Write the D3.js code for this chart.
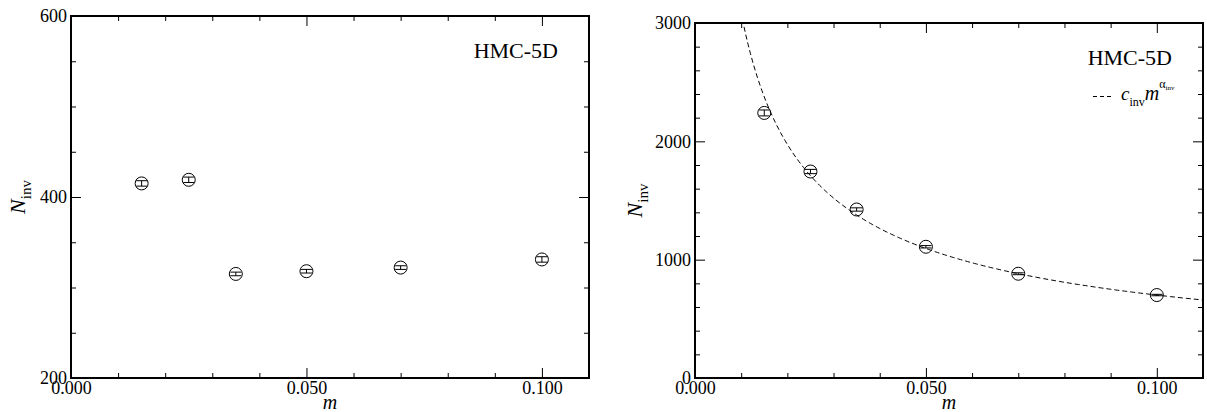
<!DOCTYPE html>
<html>
<head>
<meta charset="utf-8">
<script src="https://cdn.jsdelivr.net/npm/d3@7/dist/d3.min.js"></script>
<style>
  body { margin: 0; background: #fff; }
  svg { display: block; }
  text, tspan { font-family: "Liberation Serif", "Times New Roman", serif; fill: #000; }
</style>
</head>
<body>
<svg id="chart" width="1207" height="412"></svg>
<script>
// ---- data ----
const masses = [0.015, 0.025, 0.035, 0.050, 0.070, 0.100];
const leftValues = [415, 419, 315, 318, 322, 331];
const leftErrors = [3, 3, 2, 2, 2, 3];
const rightValues = [2240, 1745, 1424, 1109, 881, 701];
const rightErrors = [25, 18, 14, 10, 8, 6];
const fitC = [159.3];       // c_inv
const fitAlpha = [-0.6434]; // alpha_inv
const xMajorTicks = [0.000, 0.050, 0.100];
const xMinorTicks = [0.01, 0.02, 0.03, 0.04, 0.06, 0.07, 0.08, 0.09, 0.11];
const leftYMajor = [200, 400, 600];
const leftYMinor = [250, 300, 350, 450, 500, 550];
const rightYMajor = [0, 1000, 2000, 3000];
const rightYMinor = [200, 400, 600, 800, 1200, 1400, 1600, 1800, 2200, 2400, 2600, 2800];
const panelLabel = "HMC-5D";

const SERIF = '"Liberation Serif", "Times New Roman", serif';
const svg = d3.select("#chart");

function styleAxis(a) {
  a.select(".domain").remove();
  a.attr("font-family", SERIF).attr("font-size", 18);
  a.selectAll(".tick line").attr("stroke", "#000").attr("stroke-width", 1);
  a.selectAll(".tick text").attr("fill", "#000")
    .style("font-family", SERIF).style("font-size", "18px");
}

function panel(opts) {
  const x = d3.scaleLinear().domain([0, 0.11]).range([opts.x0, opts.x1]);
  const y = d3.scaleLinear().domain(opts.yDomain).range([opts.y1, opts.y0]);
  const g = svg.append("g");

  const fmtX = d3.format(".3f");
  // bottom
  g.append("g").attr("transform", `translate(0,${opts.y1})`)
    .call(d3.axisBottom(x).tickValues(xMajorTicks).tickFormat(fmtX).tickSize(-10).tickPadding(3))
    .call(styleAxis);
  g.append("g").attr("transform", `translate(0,${opts.y1})`)
    .call(d3.axisBottom(x).tickValues(xMinorTicks).tickFormat("").tickSize(-5))
    .call(styleAxis);
  // top
  g.append("g").attr("transform", `translate(0,${opts.y0})`)
    .call(d3.axisTop(x).tickValues(xMajorTicks).tickFormat("").tickSize(-10))
    .call(styleAxis);
  g.append("g").attr("transform", `translate(0,${opts.y0})`)
    .call(d3.axisTop(x).tickValues(xMinorTicks).tickFormat("").tickSize(-5))
    .call(styleAxis);
  // left
  g.append("g").attr("transform", `translate(${opts.x0},0)`)
    .call(d3.axisLeft(y).tickValues(opts.yMajor).tickFormat(d3.format("d")).tickSize(-10).tickPadding(4))
    .call(styleAxis);
  g.append("g").attr("transform", `translate(${opts.x0},0)`)
    .call(d3.axisLeft(y).tickValues(opts.yMinor).tickFormat("").tickSize(-5))
    .call(styleAxis);
  // right
  g.append("g").attr("transform", `translate(${opts.x1},0)`)
    .call(d3.axisRight(y).tickValues(opts.yMajor).tickFormat("").tickSize(-10))
    .call(styleAxis);
  g.append("g").attr("transform", `translate(${opts.x1},0)`)
    .call(d3.axisRight(y).tickValues(opts.yMinor).tickFormat("").tickSize(-5))
    .call(styleAxis);

  // frame
  g.append("rect").attr("x", opts.x0).attr("y", opts.y0)
    .attr("width", opts.x1 - opts.x0).attr("height", opts.y1 - opts.y0)
    .attr("fill", "none").attr("stroke", "#000").attr("stroke-width", 2);

  // fit curve
  if (opts.fit) {
    const clip = "clip" + opts.x0;
    svg.append("clipPath").attr("id", clip).append("rect")
      .attr("x", opts.x0).attr("y", opts.y0).attr("width", opts.x1 - opts.x0).attr("height", opts.y1 - opts.y0);
    const ms = d3.range(0.009, 0.1101, 0.0005);
    const line = d3.line().x(d => x(d)).y(d => y(fitC[0] * Math.pow(d, fitAlpha[0])));
    g.append("path").datum(ms).attr("d", line).attr("clip-path", `url(#${clip})`)
      .attr("fill", "none").attr("stroke", "#000").attr("stroke-width", 1)
      .attr("stroke-dasharray", "5,3");
  }

  // error bars
  const pts = masses.map((m, i) => ({ m, v: opts.values[i], e: opts.errors[i] }));
  const eb = g.append("g").attr("stroke", "#000").attr("stroke-width", 1);
  pts.forEach(p => {
    eb.append("line").attr("x1", x(p.m)).attr("x2", x(p.m)).attr("y1", y(p.v - p.e)).attr("y2", y(p.v + p.e));
    eb.append("line").attr("x1", x(p.m) - 5.5).attr("x2", x(p.m) + 5.5).attr("y1", y(p.v - p.e)).attr("y2", y(p.v - p.e));
    eb.append("line").attr("x1", x(p.m) - 5.5).attr("x2", x(p.m) + 5.5).attr("y1", y(p.v + p.e)).attr("y2", y(p.v + p.e));
  });
  g.append("g").selectAll("circle").data(pts).join("circle")
    .attr("cx", d => x(d.m)).attr("cy", d => y(d.v)).attr("r", 6.5)
    .attr("fill", "none").attr("stroke", "#000").attr("stroke-width", 1);

  // panel label
  g.append("text").attr("x", opts.x1 - 31).attr("y", opts.labelY).attr("text-anchor", "end")
    .attr("fill", "#000").style("font-size", "22px").text(panelLabel);

  // x axis title
  g.append("text").attr("x", (opts.x0 + opts.x1) / 2).attr("y", 409).attr("text-anchor", "middle")
    .attr("fill", "#000").style("font-size", "20px").style("font-style", "italic").text("m");

  // y axis title
  const yt = g.append("text")
    .attr("transform", `translate(${opts.yTitleX},${(opts.y0 + opts.y1) / 2}) rotate(-90)`)
    .attr("text-anchor", "middle").attr("fill", "#000");
  yt.append("tspan").style("font-size", "22px").style("font-style", "italic").text("N");
  yt.append("tspan").style("font-size", "15px").attr("dy", 6).text("inv");

  return { x, y, g };
}

panel({ x0: 71, x1: 589, y0: 16, y1: 378, yDomain: [200, 600],
  yMajor: leftYMajor, yMinor: leftYMinor, values: leftValues, errors: leftErrors,
  labelY: 58, yTitleX: 25, fit: false });

const R = panel({ x0: 695, x1: 1203, y0: 23, y1: 378, yDomain: [0, 3000],
  yMajor: rightYMajor, yMinor: rightYMinor, values: rightValues, errors: rightErrors,
  labelY: 65, yTitleX: 642, fit: true });

// legend
const lg = R.g.append("g");
lg.append("line").attr("x1", 1093).attr("x2", 1113).attr("y1", 96.5).attr("y2", 96.5)
  .attr("stroke", "#000").attr("stroke-width", 1).attr("stroke-dasharray", "4,3");
const lt = lg.append("text").attr("x", 1121).attr("y", 100).attr("fill", "#000");
lt.append("tspan").attr("fill", "#000").style("font-size", "19px").style("font-style", "italic").text("c");
lt.append("tspan").attr("fill", "#000").style("font-size", "12px").attr("dy", 6).text("inv");
lt.append("tspan").attr("fill", "#000").style("font-size", "20px").style("font-style", "italic").attr("dy", -6).text("m");
lt.append("tspan").attr("fill", "#000").style("font-size", "12px").attr("dy", -12).text("α");
lt.append("tspan").attr("fill", "#000").style("font-size", "7px").attr("dy", 2).text("inv");
</script>
</body>
</html>
